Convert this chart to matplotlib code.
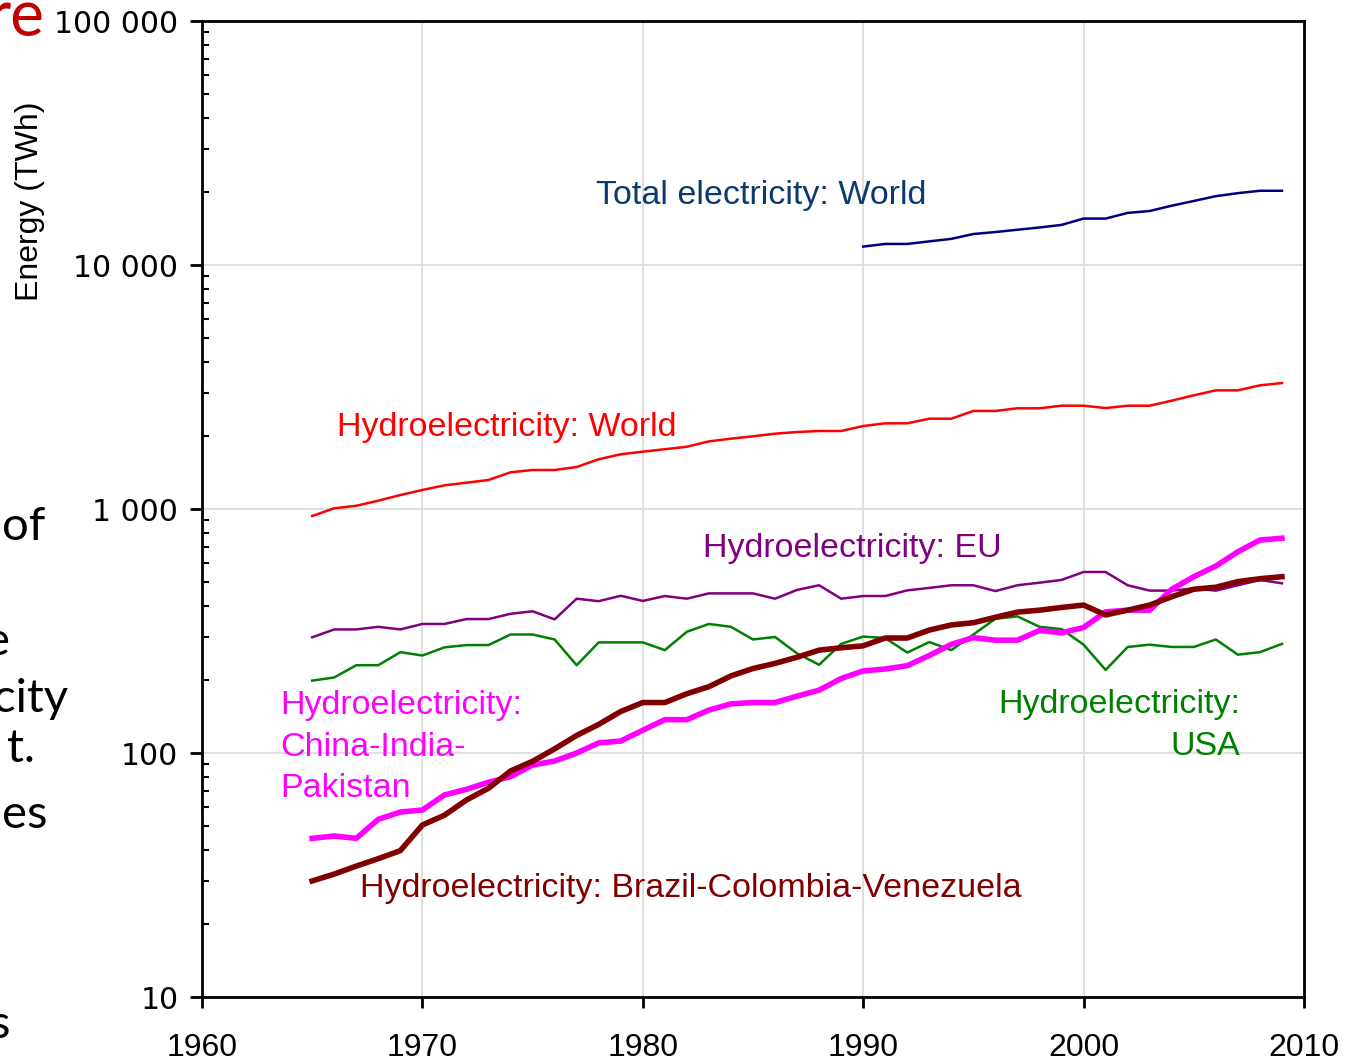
import matplotlib
matplotlib.use("Agg")
import matplotlib.pyplot as plt
from matplotlib.ticker import FixedLocator, LogLocator, NullFormatter
import numpy as np

# Anos das séries
years = list(range(1965, 2010))
years_total = list(range(1990, 2010))

# Valores (TWh)
total_world = [11900, 12200, 12200, 12500, 12800, 13400, 13650, 13950, 14250, 14600,
               15500, 15500, 16350, 16650, 17500, 18300, 19150, 19700, 20150, 20150]

hydro_world = [936, 1007, 1031, 1082, 1141, 1197, 1250, 1282, 1315, 1414,
               1445, 1445, 1486, 1599, 1676, 1718, 1758, 1800, 1893, 1942,
               1986, 2036, 2068, 2088, 2088, 2188, 2245, 2245, 2345, 2345,
               2523, 2523, 2587, 2587, 2651, 2651, 2592, 2651, 2651, 2780,
               2924, 3064, 3064, 3213, 3283]

hydro_eu = [298, 321, 321, 329, 321, 338, 338, 354, 354, 372,
            381, 353, 429, 419, 441, 420, 440, 429, 451, 451,
            451, 429, 466, 487, 429, 440, 440, 464, 475, 487,
            487, 461, 487, 499, 512, 552, 552, 487, 463, 463,
            473, 463, 487, 512, 496]

hydro_usa = [198, 204, 229, 229, 259, 251, 271, 277, 277, 306,
             306, 292, 229, 284, 284, 284, 264, 314, 338, 329,
             292, 299, 256, 230, 280, 300, 296, 258, 285, 264,
             306, 355, 363, 329, 322, 278, 219, 272, 278, 272,
             272, 292, 253, 259, 280]

hydro_cip = [44.7, 45.7, 44.7, 53.5, 57.3, 58.4, 67.3, 71.0, 75.9, 80.0,
             89.3, 92.7, 100, 110, 112, 124, 137, 137, 150, 159,
             161, 161, 171, 181, 202, 217, 221, 228, 251, 279,
             297, 290, 290, 318, 311, 327, 379, 385, 385, 469,
             528, 584, 668, 746, 759]

hydro_bcv = [29.9, 31.9, 34.4, 36.9, 39.8, 50.7, 55.6, 64.2, 71.7, 84.4,
             92.5, 104, 118, 131, 148, 161, 161, 175, 187, 207,
             222, 233, 247, 264, 270, 275, 296, 296, 319, 335,
             342, 360, 378, 385, 395, 404, 368, 385, 404, 437,
             469, 478, 504, 518, 528]

y_ticks = [10, 100, 1000, 10000, 100000]
y_tick_labels = ["10", "100", "1 000", "10 000", "100 000"]
x_ticks = [1960, 1970, 1980, 1990, 2000, 2010]

fig = plt.figure(figsize=(13.51, 10.61), dpi=100)
ax = fig.add_axes([0.1495, 0.0603, 0.8157, 0.9199])

ax.set_yscale("log")
ax.set_xlim(1960, 2010)
ax.set_ylim(10, 100000)

# Grade
ax.grid(True, which="major", color="#d9d9d9", linewidth=1.2, zorder=0)
ax.set_axisbelow(True)

# Séries
ax.plot(years_total, total_world, color="#000080", lw=1.8, zorder=3)
ax.plot(years, hydro_world, color="#ff0000", lw=1.8, zorder=3)
ax.plot(years, hydro_eu, color="#800080", lw=1.8, zorder=3)
ax.plot(years, hydro_usa, color="#008000", lw=1.8, zorder=3)
ax.plot(years, hydro_cip, color="#ff00ff", lw=4, zorder=4)
ax.plot(years, hydro_bcv, color="#800000", lw=4, zorder=5)

# Rótulos das séries
lab = dict(fontsize=24.5, family="Liberation Sans")
ax.text(1977.88, 19360, "Total electricity: World", color="#0b3a6e", va="center", ha="left", **lab)
ax.text(1966.13, 2168, "Hydroelectricity: World", color="#ff0000", va="center", ha="left", **lab)
ax.text(1982.73, 686, "Hydroelectricity: EU", color="#800080", va="center", ha="left", **lab)
ax.text(1963.54, 105.8, "Hydroelectricity:\nChina-India-\nPakistan", color="#ff00ff",
        va="center", ha="left", linespacing=1.45, **lab)
ax.text(2007.1, 129.7, "Hydroelectricity:\nUSA", color="#008000", va="center", ha="right",
        multialignment="right", linespacing=1.45, **lab)
ax.text(1967.17, 27.97, "Hydroelectricity: Brazil-Colombia-Venezuela", color="#800000",
        va="center", ha="left", **lab)

# Eixos
for s in ax.spines.values():
    s.set_linewidth(2)
    s.set_color("black")

ax.xaxis.set_major_locator(FixedLocator(x_ticks))
ax.set_xticklabels([str(x) for x in x_ticks], fontsize=23, family="Liberation Sans")
ax.tick_params(axis="x", which="major", direction="out", length=8, width=2, pad=18)

ax.yaxis.set_major_locator(FixedLocator(y_ticks))
ax.set_yticklabels(y_tick_labels, fontsize=21.5, family="DejaVu Sans")
ax.yaxis.set_minor_locator(LogLocator(base=10, subs=np.arange(2, 10)))
ax.yaxis.set_minor_formatter(NullFormatter())
ax.tick_params(axis="y", which="major", direction="out", length=9, width=2, pad=8)
ax.tick_params(axis="y", which="minor", direction="in", length=5, width=1.5)

fig.text(30 / 1351, 1 - 201 / 1061, "Energy (TWh)", fontsize=23, family="Liberation Sans",
         rotation=90, ha="center", va="center")

# Fragmentos do slide cortados à esquerda
frag = dict(family="Lato", fontsize=34, ha="right", va="baseline", color="black")
fig.text(45 / 1351, 1 - 36 / 1061, "re", family="Lato", fontsize=46, ha="right",
         va="baseline", color="#c00000")
fig.text(45 / 1351, 1 - 540 / 1061, "of", **frag)
fig.text(10 / 1351, 1 - 655 / 1061, "e", **frag)
fig.text(68 / 1351, 1 - 712 / 1061, "city", **frag)
fig.text(35 / 1351, 1 - 762 / 1061, "t.", **frag)
fig.text(47 / 1351, 1 - 828 / 1061, "es", **frag)
fig.text(10 / 1351, 1 - 1038 / 1061, "s", **frag)

fig.savefig("out.png", dpi=100)
